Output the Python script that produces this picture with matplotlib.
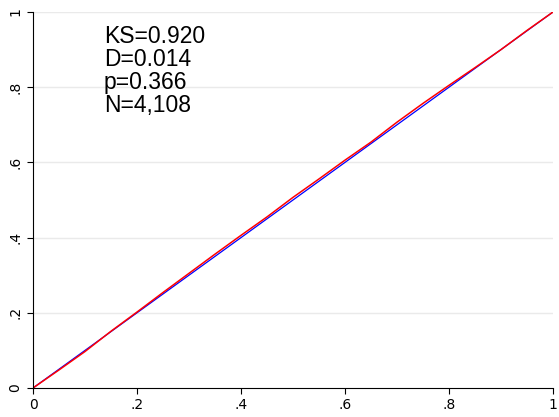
import matplotlib
matplotlib.use("Agg")
import matplotlib.pyplot as plt

diag = [0, 1]
emp_x = [0, 0.05, 0.1, 0.15, 0.2, 0.25, 0.3, 0.35, 0.4, 0.45, 0.5, 0.55, 0.6, 0.65, 0.7, 0.75, 0.8, 0.85, 0.9, 0.95, 1.0]
emp_y = [0, 0.048, 0.097, 0.151, 0.202, 0.254, 0.305, 0.356, 0.406, 0.455, 0.507, 0.556, 0.606, 0.654, 0.707, 0.757, 0.805, 0.852, 0.900, 0.951, 1.0]
ticks = [0, 0.2, 0.4, 0.6, 0.8, 1.0]
tick_labels = ["0", ".2", ".4", ".6", ".8", "1"]
stats_text = "KS=0.920\nD=0.014\np=0.366\nN=4,108"

fig = plt.figure(figsize=(5.59, 4.17), dpi=100)
ax = fig.add_axes([33/559, 29/417, 520/559, 376/417])
ax.set_xlim(0, 1)
ax.set_ylim(0, 1)
for t in ticks[1:]:
    ax.axhline(t, color="#eaeaea", lw=1, zorder=0)
ax.plot(diag, diag, color="blue", lw=0.9)
ax.plot(emp_x, emp_y, color="red", lw=1.1)
ax.set_xticks(ticks, tick_labels)
ax.set_yticks(ticks, tick_labels)
plt.setp(ax.get_yticklabels(), rotation=90, va="center")
ax.tick_params(labelsize=10, length=4)
for s in ["top", "right"]:
    ax.spines[s].set_visible(False)
ax.text(0.136, 0.965, stats_text, fontsize=16.5, va="top", ha="left", linespacing=1.0, family="Liberation Sans")
fig.savefig("out.png", dpi=100)
